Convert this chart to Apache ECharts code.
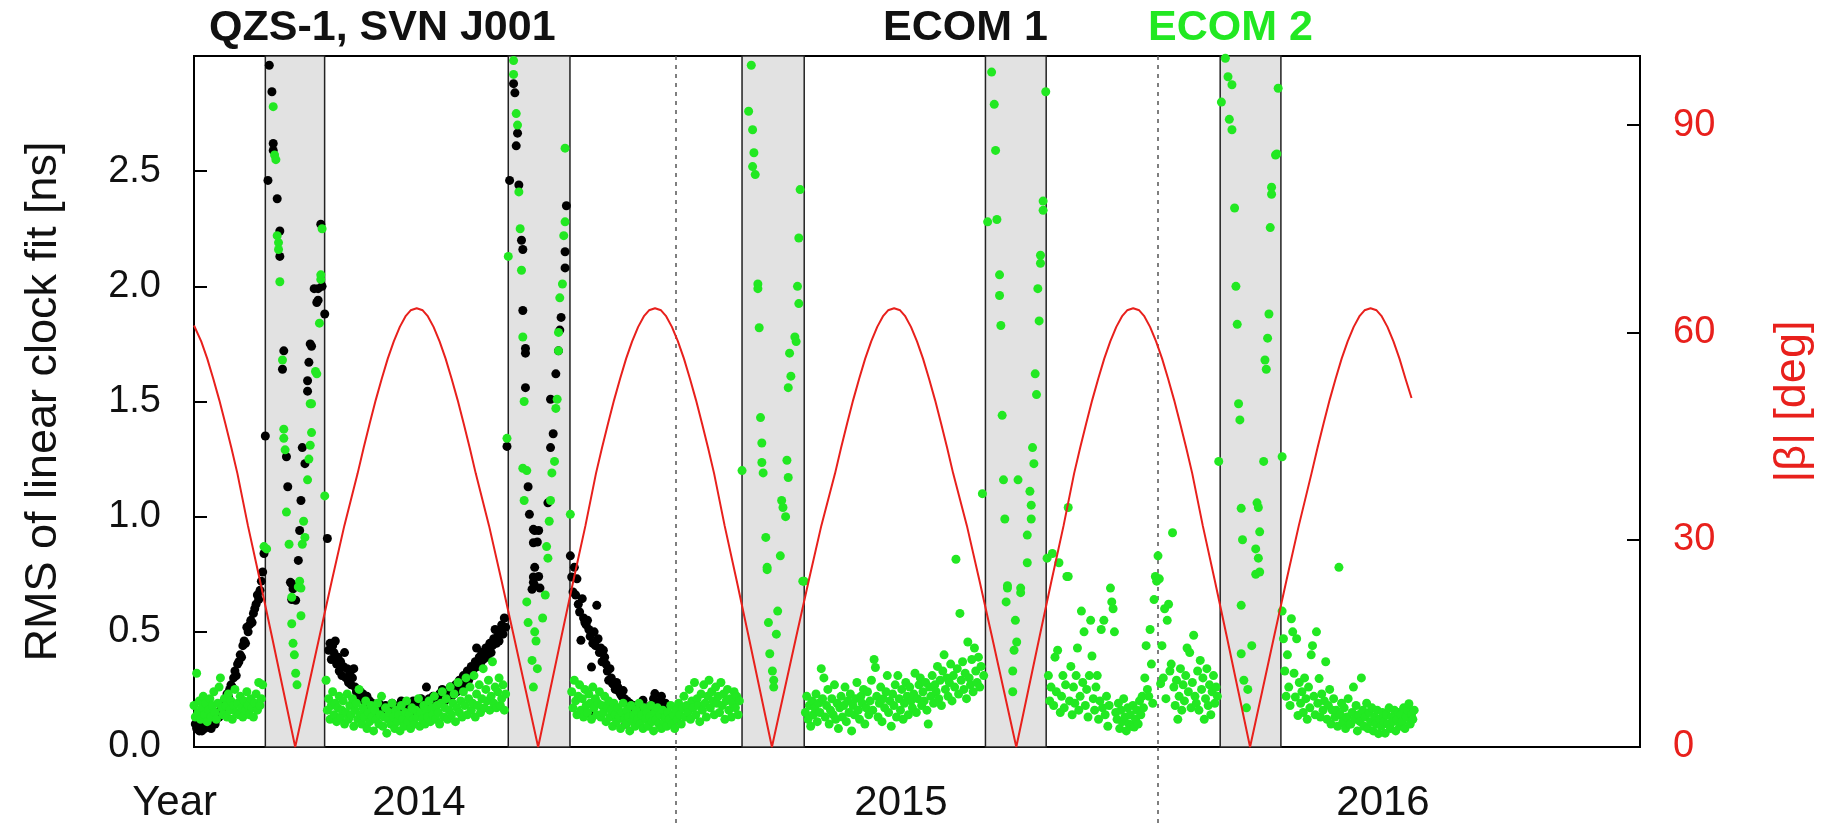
<!DOCTYPE html>
<html><head><meta charset="utf-8">
<script src="https://cdn.jsdelivr.net/npm/echarts@6/dist/echarts.min.js"></script>
<style>html,body{margin:0;padding:0;background:#fff}#c{width:1836px;height:825px}</style>
</head><body><div id="c"></div>
<script>
// x axis: decimal years
const yearLineTicks = ['2014', '2015', '2016', '2017'];
// eclipse / orbit-normal seasons (decimal years)
const bands = [[2014.148, 2014.271], [2014.652, 2014.780], [2015.137, 2015.266], [2015.642, 2015.768], [2016.129, 2016.255]];
// |beta| angle [deg] vs decimal year
const beta = [
[2014.000,61.0],[2014.015,58.7],[2014.0275,56.2],[2014.040,53.3],[2014.0525,50.2],[2014.065,46.8],[2014.0775,43.3],[2014.090,39.6],[2014.112,32.0],[2014.1365,24.2],[2014.161,16.2],[2014.1855,8.1],[2014.210,0],
[2014.2355,8.1],[2014.261,16.2],[2014.2864,24.2],[2014.3118,32.0],[2014.3395,39.6],[2014.352,43.3],[2014.3645,46.8],[2014.377,50.2],[2014.3895,53.3],[2014.402,56.2],[2014.4145,58.7],[2014.427,60.8],[2014.4395,62.4],[2014.4495,63.2],[2014.462,63.5],
[2014.4745,63.2],[2014.4845,62.4],[2014.497,60.8],[2014.5095,58.7],[2014.522,56.2],[2014.5345,53.3],[2014.547,50.2],[2014.5595,46.8],[2014.572,43.3],[2014.5845,39.6],[2014.6122,32.0],[2014.6376,24.2],[2014.663,16.2],[2014.6885,8.1],[2014.714,0],
[2014.7385,8.1],[2014.763,16.2],[2014.7875,24.2],[2014.812,32.0],[2014.834,39.6],[2014.8465,43.3],[2014.859,46.8],[2014.8715,50.2],[2014.884,53.3],[2014.8965,56.2],[2014.909,58.7],[2014.9215,60.8],[2014.934,62.4],[2014.944,63.2],[2014.9565,63.5],
[2014.969,63.2],[2014.979,62.4],[2014.9915,60.8],[2015.004,58.7],[2015.0165,56.2],[2015.029,53.3],[2015.0415,50.2],[2015.054,46.8],[2015.0665,43.3],[2015.079,39.6],[2015.101,32.0],[2015.1255,24.2],[2015.150,16.2],[2015.1745,8.1],[2015.199,0],
[2015.2246,8.1],[2015.2502,16.2],[2015.2758,24.2],[2015.3014,32.0],[2015.330,39.6],[2015.3425,43.3],[2015.355,46.8],[2015.3675,50.2],[2015.380,53.3],[2015.3925,56.2],[2015.405,58.7],[2015.4175,60.8],[2015.430,62.4],[2015.440,63.2],[2015.4525,63.5],
[2015.465,63.2],[2015.475,62.4],[2015.4875,60.8],[2015.500,58.7],[2015.5125,56.2],[2015.525,53.3],[2015.5375,50.2],[2015.550,46.8],[2015.5625,43.3],[2015.575,39.6],[2015.6036,32.0],[2015.6292,24.2],[2015.6548,16.2],[2015.6804,8.1],[2015.706,0],
[2015.7305,8.1],[2015.755,16.2],[2015.7795,24.2],[2015.804,32.0],[2015.826,39.6],[2015.8385,43.3],[2015.851,46.8],[2015.8635,50.2],[2015.876,53.3],[2015.8885,56.2],[2015.901,58.7],[2015.9135,60.8],[2015.926,62.4],[2015.936,63.2],[2015.9485,63.5],
[2015.961,63.2],[2015.971,62.4],[2015.9835,60.8],[2015.996,58.7],[2016.0085,56.2],[2016.021,53.3],[2016.0335,50.2],[2016.046,46.8],[2016.0585,43.3],[2016.071,39.6],[2016.093,32.0],[2016.1175,24.2],[2016.142,16.2],[2016.1665,8.1],[2016.191,0],
[2016.2163,8.1],[2016.2415,16.2],[2016.2668,24.2],[2016.292,32.0],[2016.3185,39.6],[2016.331,43.3],[2016.3435,46.8],[2016.356,50.2],[2016.3685,53.3],[2016.381,56.2],[2016.3935,58.7],[2016.406,60.8],[2016.4185,62.4],[2016.4285,63.2],[2016.441,63.5],
[2016.4535,63.2],[2016.4635,62.4],[2016.476,60.8],[2016.4885,58.7],[2016.501,56.2],[2016.5135,53.3],[2016.526,50.5]
];
// ECOM 1 RMS [ns] : [day since 2014-01-01, value]
const ecom1Days = [
[1,0.10],[2,0.08],[3,0.12],[4,0.07],[5,0.09],[6,0.07],[7,0.10],[8,0.08],[9,0.11],[10,0.09],[11,0.12],[12,0.10],[13,0.08],[14,0.11],[15,0.13],[16,0.10],[17,0.12],[18,0.14],[19,0.13],[20,0.16],
[21,0.18],[22,0.17],[23,0.20],[24,0.21],[25,0.23],[26,0.22],[27,0.25],[28,0.27],[29,0.26],[30,0.30],[31,0.33],[32,0.31],[33,0.36],[34,0.37],[35,0.40],[36,0.39],[37,0.44],[38,0.46],[39,0.45],[40,0.52],
[41,0.50],[42,0.53],[43,0.55],[44,0.54],[45,0.58],[46,0.60],[47,0.62],[48,0.66],[49,0.64],[50,0.68],[51,0.72],[52,0.76],[53,0.84],
[54,1.35],[56,2.46],[57,2.96],[59,2.845],[60,2.59],[60,2.62],[63,2.38],[65,2.24],[65,2.13],[67,1.64],[68,1.72],[70,1.26],[71,1.13],[73,0.715],[74,0.709],[75,0.687],[74,0.64],[77,0.637],
[79,0.81],[80,0.94],[81,1.07],[82,1.30],[84,1.23],[86,1.545],[86,1.59],[87,1.67],[88,1.75],[89,1.74],[91,1.99],[93,1.93],[94,1.99],[94,1.94],[96,2.27],[97,2.0],[99,1.88],
[101,0.905],[102,0.42],[103,0.45],[104,0.38],[105,0.44],[106,0.41],[107,0.46],[108,0.36],[109,0.39],[110,0.33],[111,0.37],[112,0.31],[113,0.35],[114,0.41],[115,0.30],[116,0.34],[117,0.28],[118,0.32],[119,0.27],[120,0.30],
[121,0.34],[122,0.26],[123,0.24],[124,0.25],[125,0.22],[126,0.24],[127,0.21],[128,0.23],[129,0.20],[130,0.19],[131,0.22],[132,0.18],[133,0.20],[134,0.17],[135,0.19],[136,0.16],[137,0.18],[138,0.15],[139,0.17],[140,0.19],
[141,0.16],[142,0.14],[143,0.17],[144,0.15],[145,0.18],[146,0.16],[147,0.14],[148,0.17],[149,0.15],[150,0.19],[151,0.16],[152,0.14],[153,0.17],[154,0.15],[155,0.18],[156,0.16],[157,0.20],[158,0.15],[159,0.17],[160,0.14],
[161,0.18],[162,0.16],[163,0.19],[164,0.15],[165,0.17],[166,0.20],[167,0.16],[168,0.18],[169,0.15],[170,0.19],[171,0.17],[172,0.21],[173,0.16],[174,0.19],[175,0.17],[176,0.26],[177,0.18],[178,0.21],[179,0.19],[180,0.17],
[181,0.22],[182,0.20],[183,0.18],[184,0.21],[185,0.19],[186,0.23],[187,0.20],[188,0.25],[189,0.22],[190,0.20],[191,0.24],[192,0.21],[193,0.23],[194,0.26],[195,0.22],[196,0.25],[197,0.23],[198,0.27],[199,0.24],[200,0.26],
[201,0.29],[202,0.25],[203,0.28],[204,0.31],[205,0.27],[206,0.30],[207,0.33],[208,0.29],[209,0.32],[210,0.35],[211,0.31],[212,0.34],[213,0.37],[214,0.43],[215,0.35],[216,0.39],[217,0.36],[218,0.41],[219,0.38],[220,0.40],
[221,0.43],[222,0.39],[223,0.42],[224,0.45],[225,0.41],[226,0.44],[227,0.47],[228,0.51],[229,0.45],[230,0.48],[231,0.46],[232,0.50],[233,0.53],[234,0.49],[235,0.56],[236,0.52],
[237,1.305],[239,2.46],[242,2.88],[243,2.84],[244,2.61],[245,2.665],[246,2.44],[248,2.20],[249,2.16],[249,1.895],[251,1.73],[251,1.71],[251,1.56],[253,1.13],[254,1.01],[257,0.945],[258,0.94],[257,0.887],[258,0.78],[257,0.738],
[258,0.70],[257,0.715],[256,0.685],[261,0.94],[260,0.89],[261,0.74],[262,0.69],[268,1.06],[270,1.30],[270,1.51],[272,1.36],[274,1.62],[276,1.72],[277,1.81],[278,1.865],[281,2.08],[281,2.15],[282,2.35],[285,0.83],
[286,0.738],[287,0.673],[288,0.78],[289,0.66],[290,0.73],[291,0.62],[292,0.586],[293,0.463],[294,0.644],[295,0.56],[296,0.54],[297,0.53],[298,0.55],[299,0.51],[300,0.48],[301,0.347],[301,0.138],[302,0.45],[303,0.50],[304,0.44],
[305,0.615],[306,0.47],[307,0.41],[308,0.43],[309,0.37],[310,0.42],[311,0.39],[312,0.36],[313,0.33],[314,0.29],[315,0.34],[316,0.30],[317,0.275],[318,0.27],[319,0.25],[320,0.28],[321,0.26],[322,0.24],[323,0.23],[324,0.22],
[325,0.245],[326,0.21],[327,0.10],[328,0.20],[329,0.18],[330,0.19],[331,0.17],[332,0.16],[333,0.155],[334,0.18],[335,0.14],[336,0.17],[337,0.15],[338,0.19],[339,0.16],[340,0.203],[341,0.14],[342,0.17],[343,0.13],[344,0.16],
[345,0.15],[346,0.18],[347,0.14],[348,0.21],[349,0.232],[350,0.16],[351,0.19],[352,0.14],[353,0.20],[354,0.22],[355,0.17],[356,0.15],[357,0.19],[358,0.17]
];
// ECOM 2 RMS [ns] : [day since 2014-01-01, value]
const ecom2Days = [
[0,0.18],[1,0.13],[2,0.32],[3,0.15],[4,0.20],[5,0.12],[6,0.17],[7,0.22],[8,0.14],[9,0.19],[10,0.11],[11,0.16],[12,0.21],[13,0.13],[14,0.18],[15,0.24],[16,0.15],[17,0.12],[18,0.19],[19,0.26],
[20,0.30],[21,0.17],[22,0.14],[23,0.21],[24,0.18],[25,0.13],[26,0.23],[27,0.16],[28,0.20],[29,0.12],[30,0.18],[31,0.25],[32,0.15],[33,0.19],[34,0.14],[35,0.22],[36,0.17],[37,0.13],[38,0.20],[39,0.16],
[40,0.24],[41,0.18],[42,0.14],[43,0.21],[44,0.17],[45,0.13],[46,0.19],[47,0.23],[48,0.16],[49,0.28],[50,0.18],[51,0.21],[52,0.27],[53,0.87],
[55,0.86],[60,2.78],[61,2.57],[62,2.55],[63,2.22],[64,2.19],[64,2.16],[65,2.02],[67,1.68],[68,1.38],[68,1.34],[69,1.29],[70,1.02],[72,0.88],[74,0.65],[74,0.535],[75,0.45],[76,0.40],[77,0.32],[78,0.27],
[79,0.695],[80,0.72],[81,0.57],[81,0.69],[82,0.88],[83,0.98],[84,0.91],[86,1.16],[87,1.25],[88,1.31],[89,1.365],[88,1.49],[89,1.49],[92,1.63],[93,1.62],[95,1.84],[96,2.03],[96,2.05],[97,2.25],[99,1.09],
[100,0.29],[101,0.16],[102,0.21],[103,0.12],[104,0.18],[105,0.24],[106,0.14],[107,0.19],[108,0.11],[109,0.17],[110,0.22],[111,0.13],[112,0.16],[113,0.20],[114,0.10],[115,0.15],[116,0.23],[117,0.12],[118,0.18],[119,0.14],
[120,0.21],[121,0.09],[122,0.16],[123,0.19],[124,0.12],[125,0.25],[126,0.14],[127,0.10],[128,0.17],[129,0.13],[130,0.20],[131,0.08],[132,0.15],[133,0.11],[134,0.18],[135,0.13],[136,0.07],[137,0.16],[138,0.12],[139,0.19],
[140,0.10],[141,0.14],[142,0.22],[143,0.09],[144,0.13],[145,0.17],[146,0.06],[147,0.12],[148,0.15],[149,0.10],[150,0.19],[151,0.13],[152,0.08],[153,0.16],[154,0.11],[155,0.14],[156,0.07],[157,0.18],[158,0.12],[159,0.09],
[160,0.15],[161,0.20],[162,0.11],[163,0.14],[164,0.08],[165,0.17],[166,0.12],[167,0.10],[168,0.16],[169,0.13],[170,0.21],[171,0.09],[172,0.15],[173,0.12],[174,0.18],[175,0.10],[176,0.16],[177,0.13],[178,0.20],[179,0.11],
[180,0.17],[181,0.14],[182,0.22],[183,0.12],[184,0.18],[185,0.15],[186,0.10],[187,0.19],[188,0.24],[189,0.13],[190,0.17],[191,0.21],[192,0.12],[193,0.16],[194,0.26],[195,0.14],[196,0.19],[197,0.23],[198,0.11],[199,0.17],
[200,0.28],[201,0.15],[202,0.20],[203,0.13],[204,0.24],[205,0.18],[206,0.30],[207,0.14],[208,0.21],[209,0.26],[210,0.16],[211,0.19],[212,0.31],[213,0.13],[214,0.23],[215,0.18],[216,0.27],[217,0.15],[218,0.21],[219,0.34],
[220,0.17],[221,0.25],[222,0.20],[223,0.29],[224,0.16],[225,0.22],[226,0.37],[227,0.19],[228,0.26],[229,0.17],[230,0.24],[231,0.30],[232,0.18],[233,0.21],[234,0.27],[235,0.16],[236,0.23],
[237,1.34],[238,2.13],[242,2.98],[242,2.92],[244,2.75],[245,2.70],[246,2.41],[247,2.25],[248,2.07],[249,1.78],[249,1.21],[250,1.50],[250,1.07],[252,1.20],[252,0.63],[253,0.54],[256,0.376],[257,0.26],[258,0.50],[259,0.46],
[260,0.34],[264,0.56],[266,0.66],[267,0.87],[268,0.82],[269,0.98],[270,1.07],[271,1.19],[273,1.24],[274,1.47],[275,1.51],[276,1.72],[276,1.80],[277,1.95],[279,2.01],[280,2.22],[281,2.28],[281,2.60],[285,1.01],
[286,0.24],[287,0.17],[288,0.29],[289,0.20],[290,0.14],[291,0.22],[292,0.27],[293,0.16],[294,0.21],[295,0.13],[296,0.25],[297,0.18],[298,0.15],[299,0.23],[300,0.19],[301,0.12],[302,0.26],[303,0.17],[304,0.21],[305,0.14],
[306,0.19],[307,0.24],[308,0.13],[309,0.18],[310,0.15],[311,0.22],[312,0.11],[313,0.17],[314,0.20],[315,0.13],[316,0.16],[317,0.09],[318,0.19],[319,0.14],[320,0.11],[321,0.17],[322,0.13],[323,0.08],[324,0.15],[325,0.19],
[326,0.12],[327,0.10],[328,0.16],[329,0.13],[330,0.07],[331,0.18],[332,0.11],[333,0.14],[334,0.09],[335,0.16],[336,0.12],[337,0.19],[338,0.10],[339,0.14],[340,0.08],[341,0.17],[342,0.12],[343,0.15],[344,0.09],[345,0.13],
[346,0.18],[347,0.11],[348,0.07],[349,0.15],[350,0.12],[351,0.17],[352,0.10],[353,0.14],[354,0.08],[355,0.16],[356,0.11],[357,0.13],[358,0.09],[359,0.15],[360,0.12],[361,0.18],[362,0.10],[363,0.14],[364,0.08],[365,0.16],
[366,0.12],[367,0.19],[368,0.14],[369,0.10],[370,0.17],[371,0.22],[372,0.13],[373,0.18],[374,0.15],[375,0.25],[376,0.12],[377,0.20],[378,0.17],[379,0.28],[380,0.14],[381,0.21],[382,0.18],[383,0.11],[384,0.23],[385,0.16],
[386,0.27],[387,0.19],[388,0.13],[389,0.22],[390,0.29],[391,0.17],[392,0.24],[393,0.20],[394,0.14],[395,0.26],[396,0.19],[397,0.22],[398,0.15],[399,0.28],[400,0.18],[401,0.23],[402,0.12],[403,0.20],[404,0.25],[405,0.16],
[406,0.21],[407,0.13],[408,0.19],[409,0.24],[410,0.17],[411,0.22],[412,0.14],[413,0.20],
[415,1.20],[420,2.76],[422,2.96],[423,2.68],[423,2.52],[424,2.58],[425,2.485],[427,2.01],[427,1.99],[428,1.82],[429,1.43],[430,1.32],[430,1.235],[431,1.19],[433,0.91],[434,0.78],[434,0.77],[435,0.54],[436,0.405],[438,0.33],
[439,0.29],[439,0.26],[441,0.49],[442,0.59],[444,0.83],[445,1.07],[446,1.04],[448,1.00],[449,1.245],[450,1.17],[450,1.56],[451,1.71],[452,1.61],[455,1.78],[456,1.76],[457,2.00],[458,1.925],[458,2.21],[459,2.42],[461,0.72],[462,0.72],
[463,0.15],[464,0.22],[465,0.12],[466,0.18],[467,0.09],[468,0.20],[469,0.14],[470,0.17],[471,0.23],[472,0.11],[473,0.19],[474,0.15],[475,0.34],[476,0.21],[477,0.30],[478,0.13],[479,0.18],[480,0.25],[481,0.10],[482,0.16],
[483,0.21],[484,0.14],[485,0.27],[486,0.12],[487,0.19],[488,0.08],[489,0.17],[490,0.22],[491,0.13],[492,0.18],[493,0.26],[494,0.11],[495,0.20],[496,0.15],[497,0.23],[498,0.07],[499,0.18],[500,0.14],[501,0.21],[502,0.28],
[503,0.16],[504,0.12],[505,0.22],[506,0.19],[507,0.25],[508,0.10],[509,0.17],[510,0.24],[511,0.14],[512,0.20],[513,0.29],[514,0.16],[515,0.38],[516,0.345],[517,0.22],[518,0.13],[519,0.19],[520,0.26],[521,0.11],[522,0.21],
[523,0.17],[524,0.24],[525,0.31],[526,0.15],[527,0.20],[528,0.09],[529,0.23],[530,0.18],[531,0.27],[532,0.13],[533,0.31],[534,0.21],[535,0.16],[536,0.25],[537,0.12],[538,0.19],[539,0.28],[540,0.22],[541,0.14],[542,0.26],
[543,0.20],[544,0.17],[545,0.23],[546,0.32],[547,0.15],[548,0.21],[549,0.27],[550,0.30],[551,0.18],[552,0.24],[553,0.20],[554,0.28],[555,0.16],[556,0.10],[557,0.26],[558,0.22],[559,0.31],[560,0.19],[561,0.27],[562,0.24],
[563,0.35],[564,0.21],[565,0.29],[566,0.18],[567,0.33],[568,0.40],[569,0.25],[570,0.30],[571,0.22],[572,0.28],[573,0.36],[574,0.20],[575,0.31],[576,0.26],[577,0.815],[578,0.34],[579,0.23],[580,0.58],[581,0.29],[582,0.37],
[583,0.25],[584,0.32],[585,0.21],[586,0.456],[587,0.30],[588,0.27],[589,0.38],[590,0.24],[591,0.43],[592,0.33],[593,0.28],[594,0.39],[595,0.26],[596,0.35],[597,1.10],[598,0.31],
[601,2.28],[604,2.93],[606,2.79],[607,2.59],[608,2.29],[610,2.05],[610,1.96],[611,1.83],[612,1.44],[613,1.16],[614,0.99],[615,0.63],[616,0.69],[616,0.70],[620,0.33],[620,0.24],[621,0.42],[622,0.55],[623,0.456],[624,1.16],
[626,0.67],[626,0.69],[631,0.92],[631,0.80],[633,1.11],[634,1.05],[634,0.99],[635,1.30],[636,1.23],[637,1.62],[638,1.53],[639,1.99],[640,1.85],[641,2.135],[641,2.10],[643,2.37],[643,2.33],[645,2.845],
[646,0.82],[647,0.31],[648,0.20],[649,0.26],[650,0.84],[651,0.18],[652,0.39],[653,0.24],[654,0.42],[655,0.80],[656,0.15],[657,0.22],[658,0.31],[659,0.17],[660,0.27],[661,0.74],[662,1.04],[662,0.74],[663,0.20],[664,0.35],
[665,0.14],[666,0.26],[667,0.19],[668,0.31],[669,0.43],[670,0.16],[671,0.22],[672,0.59],[673,0.28],[674,0.50],[675,0.18],[676,0.25],[677,0.13],[678,0.31],[679,0.55],[680,0.395],[681,0.21],[682,0.16],[683,0.26],[684,0.31],
[685,0.12],[686,0.20],[687,0.51],[688,0.17],[689,0.55],[690,0.14],[691,0.22],[692,0.09],[693,0.18],[694,0.69],[695,0.63],[696,0.60],[697,0.50],[698,0.15],[699,0.12],[700,0.19],[701,0.08],[702,0.16],[703,0.11],[704,0.21],
[705,0.13],[706,0.07],[707,0.17],[708,0.10],[709,0.14],[710,0.09],[711,0.18],[712,0.087],[713,0.12],[714,0.16],[715,0.10],[716,0.20],[717,0.14],[718,0.22],[719,0.17],[720,0.30],[721,0.44],[722,0.25],[723,0.22],[724,0.51],
[725,0.36],[726,0.19],[727,0.64],[728,0.74],[729,0.72],[730,0.83],[731,0.73],[732,0.275],[733,0.44],[734,0.30],[735,0.60],[736,0.21],[737,0.55],[738,0.62],[739,0.33],[740,0.36],[741,0.93],[742,0.26],[743,0.18],[744,0.29],
[745,0.12],[746,0.22],[747,0.34],[748,0.16],[749,0.27],[750,0.20],[751,0.31],[752,0.43],[753,0.24],[754,0.41],[755,0.17],[756,0.28],[757,0.485],[758,0.22],[759,0.19],[760,0.33],[761,0.16],[762,0.376],[763,0.25],[764,0.30],
[765,0.12],[766,0.21],[767,0.34],[768,0.18],[769,0.27],[770,0.14],[771,0.24],[772,0.31],[773,0.19],[774,0.26],[775,0.22],
[776,1.24],[778,2.80],[781,2.99],[783,2.91],[784,2.725],[786,2.875],[786,2.68],[788,2.34],[789,2.00],[790,1.835],[791,1.49],[792,1.42],[793,1.036],[793,0.615],[793,0.405],[794,0.90],[795,0.29],[797,0.17],[798,0.25],[801,0.44],
[804,0.75],[804,0.86],[805,1.06],[806,1.04],[807,0.934],[806,0.82],[807,0.76],[810,1.24],[811,1.68],[812,1.64],[813,1.775],[814,1.88],[815,2.255],[816,2.43],[816,2.40],[819,2.57],[820,2.575],[821,2.86],[824,1.26],
[824,0.59],[825,0.47],[826,0.33],[827,0.22],[828,0.40],[829,0.26],[830,0.18],[831,0.557],[832,0.50],[833,0.32],[834,0.217],[835,0.47],[836,0.137],[837,0.28],[838,0.19],[839,0.24],[840,0.15],[841,0.30],[842,0.21],[843,0.12],
[844,0.26],[845,0.17],[846,0.40],[847,0.44],[848,0.22],[849,0.14],[850,0.50],[851,0.19],[852,0.297],[853,0.13],[854,0.23],[855,0.16],[856,0.20],[857,0.37],[858,0.12],[859,0.18],[860,0.25],[861,0.10],[862,0.16],[863,0.21],
[864,0.13],[865,0.16],[866,0.09],[867,0.78],[868,0.14],[869,0.19],[870,0.11],[871,0.17],[872,0.08],[873,0.13],[874,0.21],[875,0.10],[876,0.10],[877,0.15],[878,0.26],[879,0.12],[880,0.18],[881,0.07],[882,0.14],[883,0.11],
[884,0.30],[885,0.16],[886,0.09],[887,0.13],[888,0.19],[889,0.08],[890,0.15],[891,0.11],[892,0.17],[893,0.07],[894,0.13],[895,0.10],[896,0.16],[897,0.058],[898,0.12],[899,0.09],[900,0.15],[901,0.11],[902,0.06],[903,0.14],
[904,0.10],[905,0.17],[906,0.08],[907,0.13],[908,0.11],[909,0.16],[910,0.07],[911,0.12],[912,0.15],[913,0.09],[914,0.14],[915,0.11],[916,0.17],[917,0.08],[918,0.13],[919,0.16],[920,0.188],[921,0.10],[922,0.14],[923,0.12],[924,0.16]
];

const FONT = '"Liberation Sans", Arial, Helvetica, sans-serif';
const GREEN = '#22e822';
const RED = '#e8201c';
const toYear = d => 2014 + d / 365;
const ecom1 = ecom1Days.map(p => [toYear(p[0]), p[1]]);
const ecom2 = ecom2Days.map(p => [toYear(p[0]), p[1]]);
const isYearLine = (i) => i === 1 || i === 2;

const chart = echarts.init(document.getElementById('c'), null, {renderer: 'canvas'});
chart.setOption({
  animation: false,
  backgroundColor: '#fff',
  title: [
    {text: 'QZS-1, SVN J001', left: 209, top: 7, padding: 0, textStyle: {fontFamily: FONT, fontSize: 43, fontWeight: 'bold', color: '#111'}},
    {text: 'ECOM 1', left: 883, top: 7, padding: 0, textStyle: {fontFamily: FONT, fontSize: 43, fontWeight: 'bold', color: '#111'}},
    {text: 'ECOM 2', left: 1148, top: 7, padding: 0, textStyle: {fontFamily: FONT, fontSize: 43, fontWeight: 'bold', color: GREEN}}
  ],
  grid: {left: 194, right: 196, top: 56, bottom: 78, show: true, borderColor: '#000', borderWidth: 2, backgroundColor: 'transparent'},
  xAxis: [
    {
      type: 'value', min: 2014, max: 2017, interval: 0.5, position: 'bottom',
      axisLine: {show: true, lineStyle: {color: '#000', width: 2}},
      axisTick: {show: false}, splitLine: {show: false},
      axisLabel: {
        fontFamily: FONT, fontSize: 42, color: '#111', margin: 35, padding: [0, 32, 0, 0],
        formatter: function (v) { const f = v - Math.floor(v); return Math.abs(f - 0.5) < 1e-6 ? String(Math.floor(v)) : ''; }
      },
      name: 'Year', nameLocation: 'start', nameGap: -23,
      nameTextStyle: {fontFamily: FONT, fontSize: 42, color: '#111', align: 'right', verticalAlign: 'top', padding: [35, 0, 0, 0]}
    },
    {
      type: 'category', data: yearLineTicks, boundaryGap: false, position: 'bottom',
      axisLine: {show: false}, axisLabel: {show: false},
      axisTick: {show: true, inside: false, length: 80, interval: isYearLine, lineStyle: {color: '#555', width: 1.5, type: [4, 5]}},
      splitLine: {show: true, interval: isYearLine, lineStyle: {color: '#555', width: 1.5, type: [4, 5]}}
    }
  ],
  yAxis: [
    {
      type: 'value', min: 0, max: 3, interval: 0.5, position: 'left',
      axisLine: {show: true, lineStyle: {color: '#000', width: 2}},
      axisTick: {show: true, inside: true, length: 13, lineStyle: {color: '#000', width: 2}},
      splitLine: {show: false},
      axisLabel: {showMaxLabel: false, fontFamily: FONT, fontSize: 38, color: '#111', margin: 33, formatter: v => v.toFixed(1)},
      name: 'RMS of linear clock fit [ns]', nameLocation: 'middle', nameRotate: 90, nameGap: 128,
      nameTextStyle: {fontFamily: FONT, fontSize: 45, color: '#111'}
    },
    {
      type: 'value', min: 0, max: 100, interval: 30, position: 'right',
      axisLine: {show: true, lineStyle: {color: '#000', width: 2}},
      axisTick: {show: true, inside: true, length: 13, lineStyle: {color: '#000', width: 2}},
      splitLine: {show: false},
      axisLabel: {showMaxLabel: false, fontFamily: FONT, fontSize: 38, color: RED, margin: 33},
      name: '|β| [deg]', nameLocation: 'middle', nameRotate: 90, nameGap: 130,
      nameTextStyle: {fontFamily: FONT, fontSize: 45, color: RED}
    }
  ],
  series: [
    {
      name: 'bands', type: 'line', data: [], xAxisIndex: 0, yAxisIndex: 0, z: 1, silent: true,
      markArea: {silent: true, itemStyle: {color: '#e2e2e2', borderColor: '#222', borderWidth: 1.5},
        data: bands.map(b => [{xAxis: b[0]}, {xAxis: b[1]}])}
    },
    {name: 'ECOM 1', type: 'scatter', data: ecom1, xAxisIndex: 0, yAxisIndex: 0, symbolSize: 9, itemStyle: {color: '#000', opacity: 1}, z: 2},
    {name: 'ECOM 2', type: 'scatter', data: ecom2, xAxisIndex: 0, yAxisIndex: 0, symbolSize: 9, itemStyle: {color: GREEN, opacity: 1}, z: 3},
    {name: 'beta', type: 'line', data: beta, xAxisIndex: 0, yAxisIndex: 1, showSymbol: false, symbol: 'none', lineStyle: {color: RED, width: 2}, z: 4}
  ]
});
</script>
</body></html>
